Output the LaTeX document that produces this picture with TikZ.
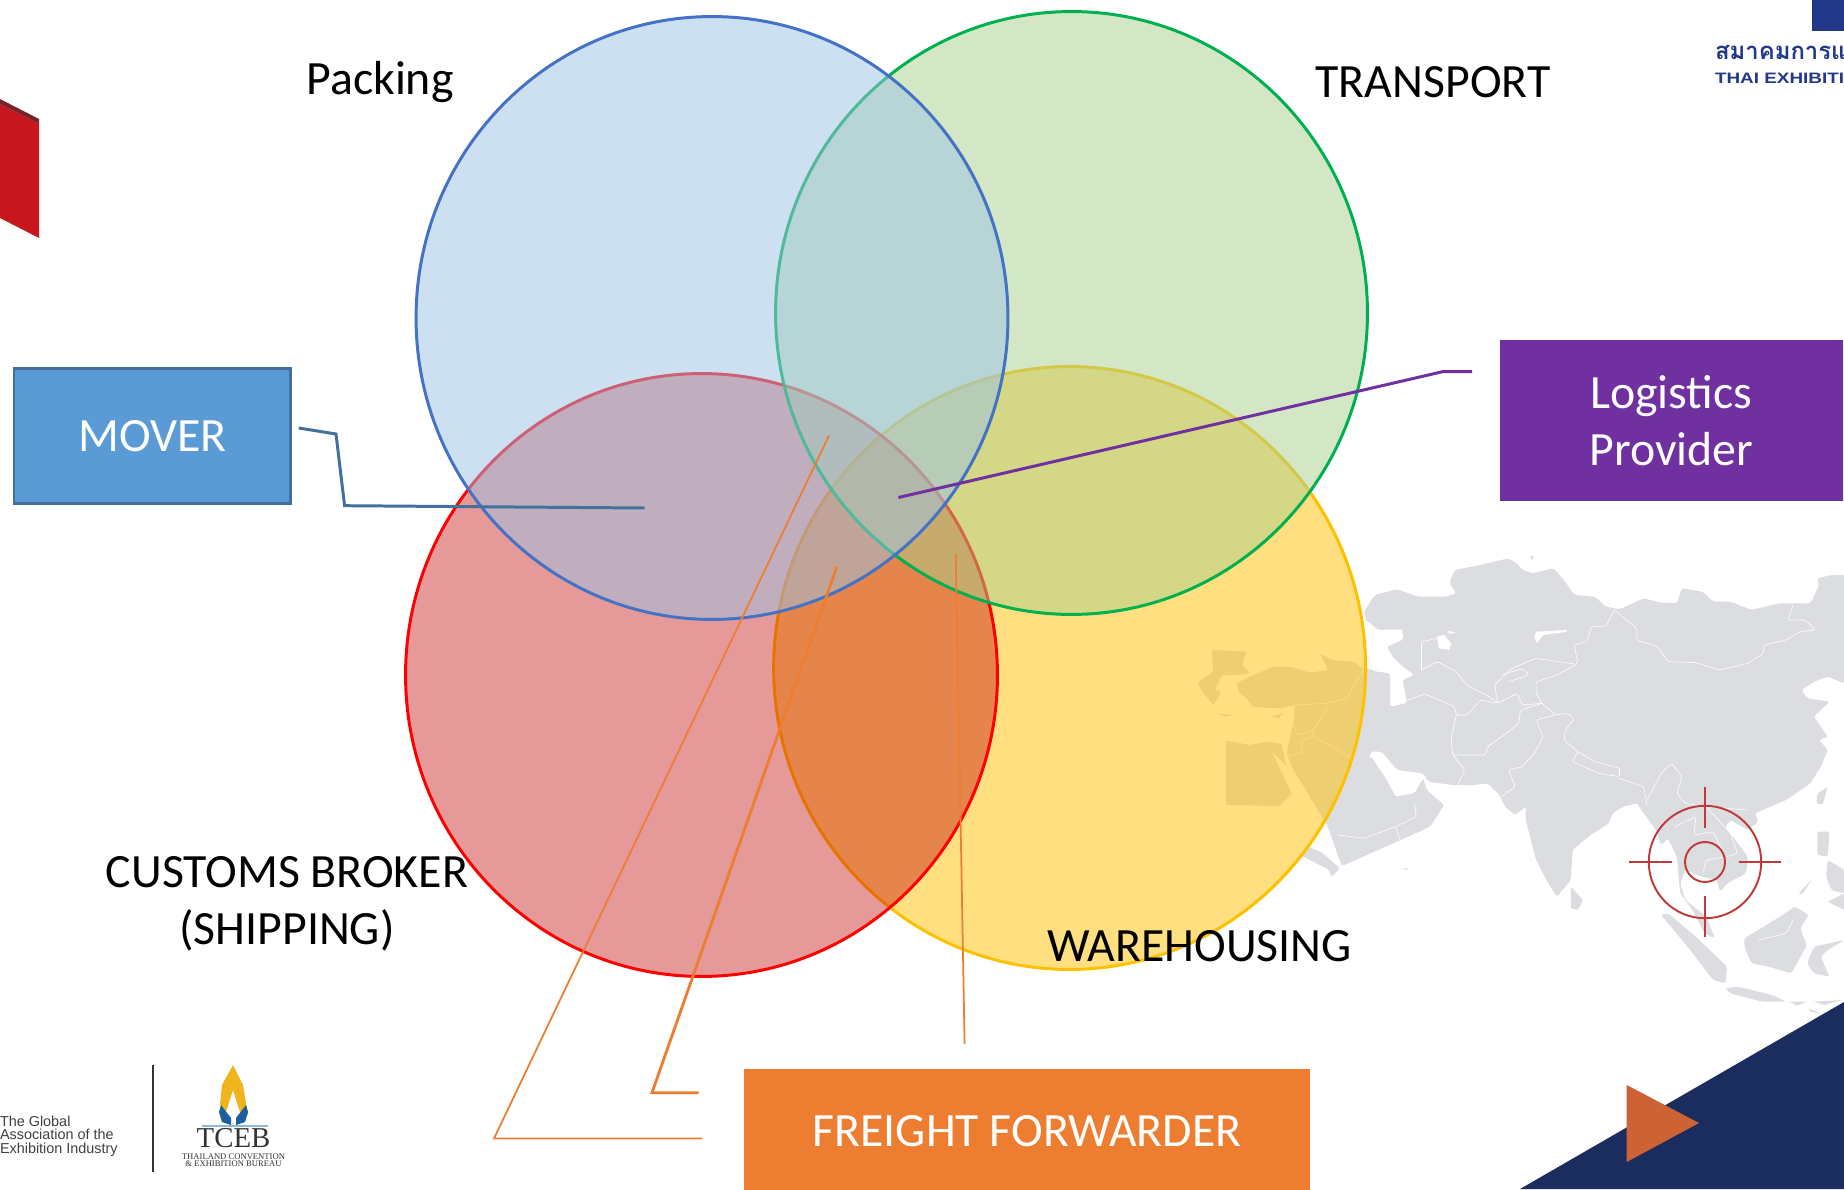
\documentclass[tikz,border=0pt]{standalone}
\usepackage{fontspec}
\usetikzlibrary{shapes.geometric}
\setmainfont{Carlito}
\newfontfamily\libsans{Liberation Sans}
\newfontfamily\libwide[FakeStretch=1.25]{Liberation Sans}
\newfontfamily\libserif{Liberation Serif}
\newfontfamily\thaifont[Script=Thai]{Loma}
\definecolor{mapgrey}{HTML}{DCDDE1}
\definecolor{navy}{HTML}{1B2D5F}
\definecolor{assocblue}{HTML}{22398A}
\definecolor{corange}{HTML}{ED7D31}
\definecolor{cpurple}{HTML}{7030A0}
\definecolor{cmover}{HTML}{5B9BD5}
\definecolor{cmoverline}{HTML}{41719C}
\definecolor{retic}{HTML}{C0393B}
\definecolor{playtri}{HTML}{CD6234}
\definecolor{redbook}{HTML}{C8161E}
\definecolor{redbookdark}{HTML}{7B2226}
\definecolor{vyellow}{HTML}{FFC000}
\definecolor{vredfill}{HTML}{C00000}
\definecolor{vgreen}{HTML}{00B050}
\definecolor{vgreenfill}{HTML}{A9D18E}
\definecolor{vblue}{HTML}{4472C4}
\definecolor{vbluefill}{HTML}{9DC3E6}
\definecolor{tcebyellow}{HTML}{F0B41C}
\definecolor{tcebblue}{HTML}{1C5F9E}
\definecolor{tcebline}{HTML}{8FB8D8}
\tikzset{
 vennshape/.style={ellipse,minimum width=11.84cm,minimum height=12.06cm,inner sep=0pt,outer sep=0pt,line width=1.7pt},
 bigtext/.style={font=\fontsize{27.2}{32.6}\selectfont,text=black,inner sep=0pt},
 boxlabel/.style={font=\fontsize{27.2}{32.6}\selectfont,text=white,inner sep=0pt,outer sep=0pt,align=center},
 landpart/.style={fill=mapgrey,draw=none,rounded corners=1.2pt},
 borderline/.style={draw=white,line width=0.35pt,line join=round,rounded corners=1pt},
 lead/.style={line join=miter},
 reticle/.style={draw=retic,line width=1.1pt},
 tinytext/.style={inner sep=0pt,outer sep=0pt}
}
\begin{document}
\begin{tikzpicture}[x=0.02cm,y=-0.02cm]
\clip (0,0) rectangle (1844,1189);
\fill[white] (0,0) rectangle (1844,1189);
% --- world map, traced in two local frames
\begin{scope}[shift={(1300,540)},xscale=1/2.88,yscale=1/3]
 \fill[landpart] (185,215)--(215,165)--(280,148)--(340,170)--(420,170)--(450,160)--(430,130)--(445,90)--(520,75)--(600,55)--(625,70)--(640,90)--(670,100)--(730,85)--(760,120)--(790,165)--(850,170)--(880,200)--(920,208)--(990,175)--(1040,188)--(1085,190)--(1100,145)--(1160,155)--(1190,185)--(1240,185)--(1300,210)--(1380,190)--(1470,190)--(1495,135)--(1490,115)--(1530,105)--(1568,105)--(1568,430)--(1520,410)--(1480,425)--(1445,450)--(1460,475)--(1525,485)--(1480,530)--(1520,590)--(1495,600)--(1520,630)--(1500,680)--(1470,730)--(1400,780)--(1310,820)--(1320,845)--(1290,870)--(1240,840)--(1225,860)--(1290,950)--(1285,1000)--(1230,1030)--(1210,1055)--(1200,1020)--(1155,1010)--(1110,990)--(1095,1030)--(1110,1080)--(1170,1130)--(1195,1195)--(1165,1180)--(1130,1110)--(1095,1060)--(1085,950)--(1060,895)--(1040,915)--(1025,870)--(990,820)--(970,790)--(930,800)--(900,820)--(890,850)--(830,890)--(785,930)--(780,1020)--(740,1070)--(715,1030)--(680,960)--(650,840)--(650,800)--(620,825)--(590,800)--(575,765)--(540,730)--(500,735)--(440,735)--(370,725)--(355,700)--(280,690)--(235,635)--(205,635)--(170,600)--(185,500)--(190,385)--(190,240)--cycle;
 \fill[landpart] (205,650)--(250,720)--(275,770)--(330,760)--(355,715)--(365,750)--(415,795)--(375,860)--(280,905)--(120,978)--(80,860)--(40,790)--(0,700)--(0,500)--(170,500)--(170,640)--cycle;
 \fill[landpart] (20,920)--(60,935)--(115,985)--(90,1012)--(85,990)--(0,945)--cycle;
 \fill[white,rounded corners=1.2pt] (190,240)--(225,270)--(295,268)--(297,298)--(250,320)--(270,355)--(290,375)--(328,405)--(295,420)--(308,488)--(265,500)--(215,465)--(232,420)--(215,390)--(192,385)--cycle;
 \fill[white] (395,290)--(415,285)--(435,310)--(430,330)--(400,325)--cycle;
 \fill[white] (680,275)--(770,270)--(765,276)--(700,285)--(682,310)--(675,290)--cycle;
 \fill[white] (425,272)--(450,278)--(430,281)--cycle;
 % islands
 \fill[landpart] (780,1040)--(815,1080)--(800,1110)--(780,1105)--cycle;
 \fill[landpart] (1490,760)--(1520,740)--(1505,795)--(1487,790)--cycle;
 \fill[landpart] (1490,875)--(1525,875)--(1520,950)--(1490,945)--cycle;
 \fill[landpart] (1520,960)--(1568,990)--(1568,1060)--(1530,1050)--(1515,1010)--cycle;
 \fill[landpart] (1435,1060)--(1475,1018)--(1445,1065)--cycle;
 \fill[landpart] (1520,1085)--(1568,1060)--(1568,1110)--cycle;
 \fill[landpart] (1280,1195)--(1390,1125)--(1425,1100)--(1465,1125)--(1440,1165)--(1460,1215)--(1415,1300)--(1350,1280)--(1300,1270)--(1280,1220)--cycle;
 \fill[landpart] (1040,1125)--(1060,1120)--(1140,1190)--(1230,1280)--(1225,1330)--(1190,1320)--(1120,1225)--cycle;
 \fill[landpart] (1480,1220)--(1568,1200)--(1520,1230)--(1500,1250)--(1525,1310)--(1480,1300)--(1460,1270)--cycle;
 \fill[landpart] (1225,1345)--(1260,1340)--(1360,1365)--(1400,1385)--(1330,1385)--(1240,1360)--cycle;
 \fill[mapgrey] (1410,1385)--(1460,1385)--(1430,1397)--cycle;
 \fill[mapgrey] (1480,1385)--(1560,1380)--(1510,1395)--cycle;
 \fill[mapgrey] (1465,1405)--(1500,1420)--(1470,1415)--cycle;
 \fill[mapgrey] (660,50)--(672,48)--(670,60)--cycle;
 \fill[mapgrey] (298,985)--(315,985)--(305,990)--cycle;
 % borders
 \draw[borderline] (905,210)--(970,265)--(970,300)--(1030,320)--(1060,365)--(1140,368)--(1210,390)--(1290,370)--(1335,340)--(1335,315)--(1400,300)--(1440,275)--(1485,270)--(1455,240)--(1405,240)--(1420,195);
 \draw[borderline] (905,210)--(880,260)--(840,260)--(825,305)--(790,315)--(800,370)--(740,405)--(680,425)--(680,460)--(697,490)--(735,525)--(770,520)--(790,535)--(765,570)--(760,600)--(800,635)--(850,665)--(920,685);
 \draw[borderline] (800,635)--(785,665)--(860,700)--(920,710)--(920,685);
 \draw[borderline] (735,525)--(680,540)--(700,590)--(675,640)--(640,680)--(600,690)--(620,740)--(580,770);
 \draw[borderline] (697,490)--(635,510)--(630,550)--(595,580)--(540,620)--(535,645)--(440,645);
 \draw[borderline] (450,525)--(435,600)--(440,645)--(475,690)--(455,735);
 \draw[borderline] (310,480)--(360,462)--(445,500)--(450,525)--(480,525)--(520,480)--(570,490)--(625,460)--(640,495)--(697,490);
 \draw[borderline] (350,390)--(350,305)--(395,295);
 \draw[borderline] (350,390)--(395,365)--(450,395)--(480,435)--(545,470)--(570,490)--(560,435)--(610,385)--(680,355)--(790,372);
 \draw[borderline] (600,425)--(660,405)--(640,385)--(580,405);
 \draw[borderline] (920,715)--(990,740)--(1000,800);
 \draw[borderline] (1000,780)--(1040,700)--(1070,670)--(1100,710)--(1085,760)--(1110,790)--(1170,800)--(1290,810);
 \draw[borderline] (1170,800)--(1240,880)--(1260,940)--(1230,950);
 \draw[borderline] (1080,860)--(1140,830)--(1135,885)--(1190,875)--(1225,950)--(1170,960)--(1160,1000);
 \draw[borderline] (330,790)--(335,830)--(275,860)--(185,895)--(110,885);
 \draw[borderline] (275,860)--(290,905);
 \draw[borderline] (1320,1200)--(1400,1180)--(1420,1140);
\end{scope}
\begin{scope}[shift={(1150,620)},scale=1/3]
 \fill[landpart] (510,100)--(545,120)--(610,125)--(645,150)--(720,160)--(720,330)--(665,395)--(600,500)--(490,549)--(465,505)--(430,450)--(410,400)--(430,310)--(435,255)--(390,265)--(330,262)--(310,262)--(290,235)--(265,215)--(260,190)--(310,165)--(370,140)--(420,140)--(480,158)--(535,150)--cycle;
 \fill[mapgrey] (228,362)--(300,375)--(350,365)--(395,372)--(408,435)--(365,395)--(425,520)--(390,558)--(228,555)--cycle;
 \fill[mapgrey] (365,290)--(400,278)--(385,295)--cycle;
 \fill[landpart] (145,185)--(175,165)--(190,155)--(185,90)--(290,95)--(275,135)--(300,160)--(260,165)--(215,165)--(195,210)--(215,215)--(190,255)--(165,225)--(150,205)--cycle;
 \fill[mapgrey] (200,280)--(250,285)--(225,290)--cycle;
 \draw[borderline] (435,255)--(530,250)--(590,235)--(640,150);
 \draw[borderline] (430,310)--(440,345)--(490,330)--(535,260);
 \draw[borderline] (490,330)--(490,350)--(600,410);
 \draw[borderline] (415,410)--(460,395)--(450,365)--(490,350);
\end{scope}
% --- reticle
\node[draw=retic,line width=1.1pt,circle,minimum size=2.25cm,inner sep=0pt] (outerring) at (1705,862) {};
\node[draw=retic,line width=1.1pt,circle,minimum size=0.8cm,inner sep=0pt] (innerring) at (1705,862) {};
\draw[reticle] (1705,787)--(1705,828);
\draw[reticle] (1705,896)--(1705,937);
\draw[reticle] (1629,862)--(1671.5,862);
\draw[reticle] (1738.5,862)--(1781,862);
% --- corner decorations
\fill[navy] (1520,1189)--(1844,1002)--(1844,1189)--cycle;
\fill[playtri] (1626.7,1085)--(1699,1123)--(1626.7,1162)--cycle;
\fill[assocblue] (1812,0) rectangle (1844,31);
\fill[redbook] (0,104)--(39,124)--(39,238)--(0,218)--cycle;
\fill[redbookdark] (0,99)--(39,119)--(39,124)--(0,104)--cycle;
% --- Venn
\node[vennshape,draw=vyellow,fill=vyellow,fill opacity=0.5] (warehouse) at (1069.6,668) {};
\node[vennshape,draw=red,fill=vredfill,fill opacity=0.4] (customs) at (701.5,675) {};
\node[vennshape,draw=vgreen,fill=vgreenfill,fill opacity=0.5] (transport) at (1071.5,313) {};
\node[vennshape,draw=vblue,fill=vbluefill,fill opacity=0.5] (packing) at (712,318) {};
% --- boxes
\node[boxlabel,fill=cmover,draw=cmoverline,line width=1.5pt,minimum width=5.54cm,minimum height=2.7cm] (mover) at (152.3,435.7) {MOVER};
\node[boxlabel,fill=cpurple,minimum width=6.87cm,minimum height=3.22cm] (logistics) at (1671.3,420.5) {Logistics\\Provider};
\node[boxlabel,fill=corange,minimum width=11.34cm,minimum height=2.48cm] (freight) at (1027,1131) {FREIGHT FORWARDER};
% --- labels
\node[bigtext,anchor=base] (lpacking) at (380,95) {Packing};
\node[bigtext,anchor=base] (ltransport) at (1433,98) {TRANSPORT};
\node[bigtext,align=center] (lcustoms) at (287,904) {CUSTOMS BROKER\\(SHIPPING)};
\node[bigtext,anchor=base] (lware) at (1199.5,961) {WAREHOUSING};
% --- leaders
\coordinate (m1) at (298.7,428); \coordinate (m2) at (336,434); \coordinate (m3) at (344.6,505.7); \coordinate (m4) at (644.5,508);
\draw[lead,cmoverline,line width=1.7pt] (m1)--(m2)--(m3)--(m4);
\coordinate (p1) at (898.5,497.5); \coordinate (p2) at (1443,371.6); \coordinate (p3) at (1472,371.6);
\draw[lead,cpurple,line width=1.7pt] (p1)--(p2)--(p3);
\coordinate (a1) at (829,435.5); \coordinate (a2) at (494,1138.5); \coordinate (a3) at (702,1138.5);
\draw[lead,corange,line width=1pt] (a1)--(a2)--(a3);
\coordinate (b1) at (836.7,567); \coordinate (b2) at (652,1092.7); \coordinate (b3) at (698.6,1092.7);
\draw[lead,corange,line width=1.6pt] (b1)--(b2)--(b3);
\coordinate (c1) at (955.7,554); \coordinate (c2) at (964.6,1044);
\draw[lead,corange,line width=1pt] (c1)--(c2);
% --- association logo, top right
\node[tinytext,anchor=base west,text=assocblue,font=\thaifont\bfseries\fontsize{13.6}{14}\selectfont] (thaiName) at (1715,60) {สมาคมการแ};
\node[tinytext,anchor=base west,text=assocblue,font=\libwide\bfseries\fontsize{8.6}{10}\selectfont] (engName) at (1715,84) {THAI EXHIBITI};
% --- bottom-left logos
\node[tinytext,anchor=base west,text=black!75,font=\libsans\fontsize{8.2}{9}\selectfont] (ufi1) at (0,1126) {The Global};
\node[tinytext,anchor=base west,text=black!75,font=\libsans\fontsize{8.2}{9}\selectfont] (ufi2) at (0,1139.5) {Association of the};
\node[tinytext,anchor=base west,text=black!75,font=\libsans\fontsize{8.2}{9}\selectfont] (ufi3) at (0,1153) {Exhibition Industry};
\draw[black!80,line width=1.1pt] (153,1065)--(153,1172);
\fill[tcebyellow] (233,1065)--(243,1085)--(248,1115)--(240,1112)--(233,1090)--(226,1112)--(220,1105)--(222,1085)--cycle;
\fill[tcebblue] (221,1105)--(231,1118)--(231,1125)--(222,1122)--(219,1112)--cycle;
\fill[tcebblue] (246,1105)--(236,1118)--(236,1125)--(245,1122)--(248,1112)--cycle;
\draw[tcebline,line width=0.6pt] (202,1126)--(268,1126);
\node[tinytext,anchor=base,text=black!80,font=\libserif\fontsize{16.4}{17}\selectfont] (tceb) at (233.5,1147) {TCEB};
\node[tinytext,anchor=base,text=black!80,font=\libserif\fontsize{4.9}{6}\selectfont] (tceb1) at (233.5,1159) {THAILAND CONVENTION};
\node[tinytext,anchor=base,text=black!80,font=\libserif\fontsize{4.9}{6}\selectfont] (tceb2) at (233.5,1166) {\& EXHIBITION BUREAU};
\end{tikzpicture}
\end{document}
